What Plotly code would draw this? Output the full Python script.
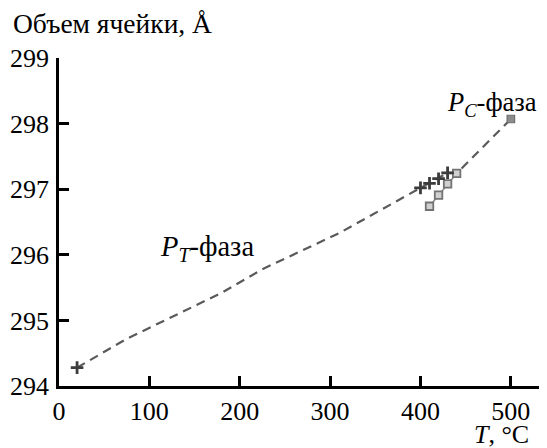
import plotly.graph_objects as go

# Trend (dashed) line through the P_T phase and on to the P_C phase
trend_T = [20, 75, 180, 225, 310, 400, 430, 440, 500]
trend_V = [294.28, 294.72, 295.42, 295.78, 296.33, 297.02, 297.25, 297.24, 298.07]

# P_T phase measured points (crosses)
pt_T = [20, 400, 410, 420, 430]
pt_V = [294.28, 297.02, 297.09, 297.16, 297.25]

# P_C phase measured points (squares)
pc_T = [410, 420, 430, 440]
pc_V = [296.74, 296.91, 297.08, 297.24]
pc_end_T = [500]
pc_end_V = [298.07]

x_ticks = [0, 100, 200, 300, 400, 500]
y_ticks = [294, 295, 296, 297, 298, 299]

FONT = "Liberation Serif, Times New Roman, serif"
FS = 26

fig = go.Figure()
fig.add_trace(go.Scatter(x=trend_T, y=trend_V, mode="lines",
                         line=dict(color="#5a5a5a", width=2.2, dash="9px,6px"),
                         hoverinfo="skip", showlegend=False))
fig.add_trace(go.Scatter(x=pc_T, y=pc_V, mode="lines+markers",
                         line=dict(color="#8a8a8a", width=1.5),
                         marker=dict(symbol="square", size=7.5, color="#d0d0d0",
                                     line=dict(color="#737373", width=1.8)),
                         showlegend=False))
fig.add_trace(go.Scatter(x=pc_end_T, y=pc_end_V, mode="markers",
                         marker=dict(symbol="square", size=7.5, color="#8c8c8c",
                                     line=dict(color="#6e6e6e", width=1.2)),
                         showlegend=False))
fig.add_trace(go.Scatter(x=pt_T, y=pt_V, mode="markers",
                         marker=dict(symbol="cross-thin", size=9,
                                     line=dict(color="#3c3c3c", width=2.8)),
                         showlegend=False))

fig.update_layout(
    width=539, height=440,
    margin=dict(l=51, r=0, t=50, b=62, autoexpand=False),
    paper_bgcolor="white", plot_bgcolor="white",
    font=dict(family=FONT, size=FS, color="black"),
    showlegend=False,
    annotations=[
        dict(text="Объем ячейки, Å", xref="paper", yref="paper",
             x=-0.098, y=1.104, xanchor="left", yanchor="middle",
             showarrow=False, font=dict(family=FONT, size=27.5, color="black")),
        dict(text="<i>P</i><sub><i>T</i></sub>-фаза", xref="x", yref="y",
             x=109, y=296.1, xanchor="left", yanchor="middle",
             showarrow=False, font=dict(family=FONT, size=28.5, color="black")),
        dict(text="<i>P</i><sub><i>C</i></sub>-фаза", xref="x", yref="y",
             x=427, y=298.3, xanchor="left", yanchor="middle",
             showarrow=False, font=dict(family=FONT, size=26.5, color="black")),
        dict(text="<i>T</i>, °C", xref="paper", yref="paper",
             x=0.967, y=-0.148, xanchor="right", yanchor="middle",
             showarrow=False, font=dict(family=FONT, size=FS, color="black")),
    ],
)
axis_common = dict(showgrid=False, zeroline=False, showline=True, linecolor="black",
                   linewidth=2.5, ticks="inside", ticklen=10, tickwidth=2.5,
                   tickcolor="black", tickfont=dict(family=FONT, size=FS, color="black"))
fig.update_xaxes(range=[0, 540], tickvals=x_ticks, ticktext=[str(v) for v in x_ticks],
                 **axis_common)
fig.update_yaxes(range=[294, 299], tickvals=y_ticks, ticktext=[str(v) for v in y_ticks],
                 ticklabelstandoff=2, **axis_common)

fig.write_html("out.html")
